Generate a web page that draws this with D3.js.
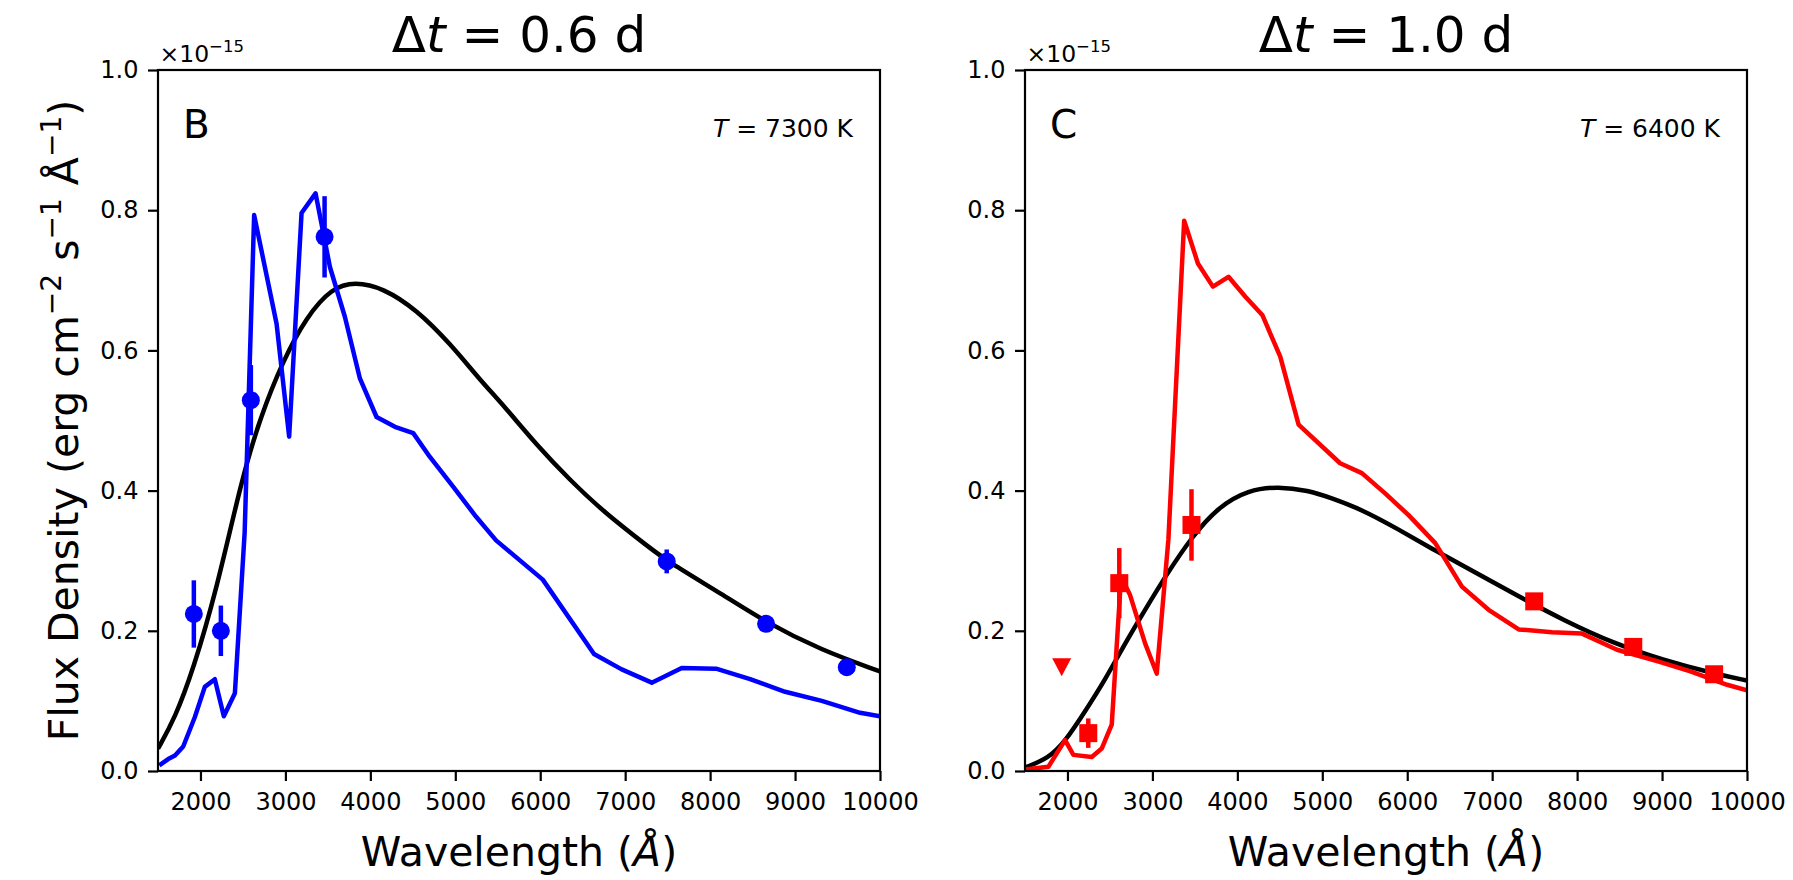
<!DOCTYPE html>
<html>
<head>
<meta charset="utf-8">
<script src="https://cdn.jsdelivr.net/npm/d3@7"></script>
<style>
body { margin: 0; background: #fff; }
text { font-family: "DejaVu Sans", sans-serif; fill: #000; }
</style>
</head>
<body>
<svg id="fig" width="1793" height="880"></svg>
<script>
// SED panels, dt = 0.6 d (B) and dt = 1.0 d (C); flux in units of 1e-15

// panel B: model spectrum (blue)
var specBWave = [1515, 1620, 1700, 1797, 1934, 2051, 2169, 2275, 2405, 2520, 2632, 2896, 3044, 3190, 3355, 3524, 3700, 3877, 4073, 4289, 4505, 4701, 4972, 5243, 5480, 6030, 6633, 6959, 7313, 7666, 8070, 8471, 8883, 9315, 9766, 10000];
var specBFlux = [0.008, 0.017, 0.022, 0.035, 0.077, 0.120, 0.131, 0.078, 0.111, 0.340, 0.793, 0.638, 0.477, 0.796, 0.824, 0.719, 0.648, 0.560, 0.505, 0.491, 0.482, 0.448, 0.406, 0.363, 0.329, 0.273, 0.167, 0.145, 0.126, 0.147, 0.146, 0.131, 0.113, 0.100, 0.083, 0.078];

// panel B: blackbody T = 7300 K
var bbBWave = [1500, 1698, 1913, 2189, 2483, 2699, 2974, 3249, 3544, 3818, 4152, 4545, 4937, 5290, 5565, 5958, 6350, 6743, 7293, 7489, 8156, 8659, 9295, 10000];
var bbBFlux = [0.032, 0.075, 0.144, 0.258, 0.415, 0.503, 0.586, 0.648, 0.689, 0.698, 0.689, 0.658, 0.610, 0.558, 0.522, 0.465, 0.415, 0.370, 0.318, 0.300, 0.251, 0.212, 0.173, 0.142];

// panel B: photometry
var photBWave = [1922, 2240, 2593, 3461, 7489, 8659, 9609];
var photBFlux = [0.224, 0.200, 0.529, 0.762, 0.299, 0.210, 0.148];
var photBErr  = [0.048, 0.036, 0.050, 0.058, 0.017, 0.005, 0.010];

// panel C: model spectrum (red)
var specCWave = [1500, 1775, 1972, 2070, 2286, 2403, 2521, 2631, 2737, 2914, 3051, 3188, 3374, 3536, 3712, 3896, 4092, 4296, 4505, 4721, 5210, 5466, 5740, 6016, 6330, 6644, 6958, 7312, 7705, 8058, 8470, 8961, 9334, 9766, 10000];
var specCFlux = [0.002, 0.006, 0.044, 0.023, 0.020, 0.032, 0.066, 0.277, 0.251, 0.182, 0.139, 0.330, 0.785, 0.724, 0.691, 0.705, 0.677, 0.650, 0.591, 0.494, 0.439, 0.425, 0.396, 0.365, 0.325, 0.263, 0.230, 0.202, 0.198, 0.196, 0.173, 0.156, 0.142, 0.123, 0.115];

// panel C: blackbody T = 6400 K
var bbCWave = [1500, 1775, 1972, 2207, 2442, 2678, 2914, 3149, 3463, 3777, 4130, 4483, 4837, 5092, 5466, 5878, 6349, 6820, 7312, 7842, 8431, 9020, 9609, 10000];
var bbCFlux = [0.005, 0.018, 0.042, 0.085, 0.130, 0.182, 0.230, 0.277, 0.334, 0.377, 0.401, 0.406, 0.400, 0.390, 0.373, 0.346, 0.313, 0.282, 0.249, 0.215, 0.182, 0.158, 0.139, 0.129];

// panel C: photometry + one upper limit
var photCWave = [2245, 2610, 3460, 7495, 8661, 9613];
var photCFlux = [0.054, 0.268, 0.351, 0.242, 0.177, 0.138];
var photCErr  = [0.021, 0.050, 0.051, 0.008, 0.005, 0.005];
var limCWave = [1932];
var limCFlux = [0.148];

var xTicks = [2000, 3000, 4000, 5000, 6000, 7000, 8000, 9000, 10000];
var yTicks = [0.0, 0.2, 0.4, 0.6, 0.8, 1.0];

var pw = 722, ph = 701, mtop = 70,
    lw = 4.5, spine = 2.2;

var svg = d3.select("#fig");

var xscale = d3.scaleLinear().domain([1500, 10000]).range([0, pw]),
    yscale = d3.scaleLinear().domain([0, 1]).range([ph, 0]);

var line = d3.line()
    .x(function(d) { return xscale(d[0]); })
    .y(function(d) { return yscale(d[1]); });
// the blackbody readings are a bit noisy, so smooth them with a B-spline
var smooth = d3.line()
    .curve(d3.curveBasis)
    .x(function(d) { return xscale(d[0]); })
    .y(function(d) { return yscale(d[1]); });

var panels = [
  { id: "B", left: 158, dt: "0.6", temp: "7300", color: "#0000ff", marker: "circle",
    spec: d3.zip(specBWave, specBFlux), bb: d3.zip(bbBWave, bbBFlux),
    phot: d3.zip(photBWave, photBFlux, photBErr), lim: [], ylabel: true },
  { id: "C", left: 1025, dt: "1.0", temp: "6400", color: "#ff0000", marker: "square",
    spec: d3.zip(specCWave, specCFlux), bb: d3.zip(bbCWave, bbCFlux),
    phot: d3.zip(photCWave, photCFlux, photCErr), lim: d3.zip(limCWave, limCFlux), ylabel: false }
];

panels.forEach(drawPanel);

function drawPanel(p) {
  var g = svg.append("g").attr("transform", `translate(${p.left},${mtop})`);

  g.append("clipPath").attr("id", "clip" + p.id)
    .append("rect").attr("width", pw).attr("height", ph);

  var plot = g.append("g").attr("clip-path", `url(#clip${p.id})`);

  // blackbody fit
  plot.append("path").datum(p.bb)
    .attr("d", smooth)
    .attr("fill", "none").attr("stroke", "#000")
    .attr("stroke-width", lw).attr("stroke-linejoin", "round");

  // model spectrum
  plot.append("path").datum(p.spec)
    .attr("d", line)
    .attr("fill", "none").attr("stroke", p.color)
    .attr("stroke-width", lw).attr("stroke-linejoin", "round");

  // error bars
  plot.selectAll(".err").data(p.phot).enter().append("line")
    .attr("x1", function(d) { return xscale(d[0]); })
    .attr("x2", function(d) { return xscale(d[0]); })
    .attr("y1", function(d) { return yscale(d[1] - d[2]); })
    .attr("y2", function(d) { return yscale(d[1] + d[2]); })
    .attr("stroke", p.color).attr("stroke-width", lw);

  if (p.marker == "circle") {
    plot.selectAll(".pt").data(p.phot).enter().append("circle")
      .attr("cx", function(d) { return xscale(d[0]); })
      .attr("cy", function(d) { return yscale(d[1]); })
      .attr("r", 9)
      .attr("fill", p.color);
  } else {
    plot.selectAll(".pt").data(p.phot).enter().append("rect")
      .attr("x", function(d) { return xscale(d[0]) - 9; })
      .attr("y", function(d) { return yscale(d[1]) - 9; })
      .attr("width", 18).attr("height", 18)
      .attr("fill", p.color);
  }

  // upper limits (downward triangle)
  plot.selectAll(".lim").data(p.lim).enter().append("path")
    .attr("transform", function(d) { return `translate(${xscale(d[0])},${yscale(d[1])})`; })
    .attr("d", "M0,9L-9.5,-9L9.5,-9Z")
    .attr("fill", p.color);

  // axes
  var xa = g.append("g").attr("transform", `translate(0,${ph})`)
    .call(d3.axisBottom(xscale).tickValues(xTicks).tickSize(10).tickSizeOuter(0).tickPadding(12).tickFormat(d3.format("d")));
  var ya = g.append("g")
    .call(d3.axisLeft(yscale).tickValues(yTicks).tickSize(10).tickSizeOuter(0).tickPadding(9.5).tickFormat(d3.format(".1f")));
  [xa, ya].forEach(function(a) {
    a.select(".domain").remove();
    a.selectAll("line").attr("stroke", "#000").attr("stroke-width", spine);
    a.selectAll("text").style("font-size", "24px").style("font-family", "DejaVu Sans").attr("fill", "#000");
  });

  g.append("rect").attr("width", pw).attr("height", ph)
    .attr("fill", "none").attr("stroke", "#000").attr("stroke-width", spine);

  // offset text
  var off = g.append("text").attr("x", 1.5).attr("y", -8).style("font-size", "23.5px");
  off.append("tspan").text("\u00d710");
  off.append("tspan").attr("dy", -10).style("font-size", "16.5px").text("\u221215");

  // panel letter and temperature
  g.append("text").attr("x", 25).attr("y", 68.3).style("font-size", "39px").text(p.id);
  var tt = g.append("text").attr("x", pw - 27).attr("y", 67).attr("text-anchor", "end").style("font-size", "25px");
  tt.append("tspan").style("font-style", "italic").text("T");
  tt.append("tspan").text(" = " + p.temp + " K");

  // title
  var ti = g.append("text").attr("x", pw / 2).attr("y", 52 - mtop).attr("text-anchor", "middle").style("font-size", "50px");
  ti.append("tspan").text("\u0394");
  ti.append("tspan").style("font-style", "italic").text("t");
  ti.append("tspan").text(" = " + p.dt + " d");

  // x label
  var xl = g.append("text").attr("x", pw / 2).attr("y", 866 - mtop).attr("text-anchor", "middle").style("font-size", "41px");
  xl.append("tspan").text("Wavelength (");
  xl.append("tspan").style("font-style", "italic").text("\u00c5");
  xl.append("tspan").text(")");

  if (p.ylabel) {
    var yl = svg.append("text")
      .attr("transform", `translate(78,${mtop + ph / 2}) rotate(-90)`)
      .attr("text-anchor", "middle").style("font-size", "41px");
    yl.append("tspan").text("Flux Density (erg cm");
    yl.append("tspan").attr("dy", -17).style("font-size", "28px").text("\u22122");
    yl.append("tspan").attr("dy", 17).text(" s");
    yl.append("tspan").attr("dy", -17).style("font-size", "28px").text("\u22121");
    yl.append("tspan").attr("dy", 17).text(" \u00c5");
    yl.append("tspan").attr("dy", -17).style("font-size", "28px").text("\u22121");
    yl.append("tspan").attr("dy", 17).text(")");
  }
}
</script>
</body>
</html>
